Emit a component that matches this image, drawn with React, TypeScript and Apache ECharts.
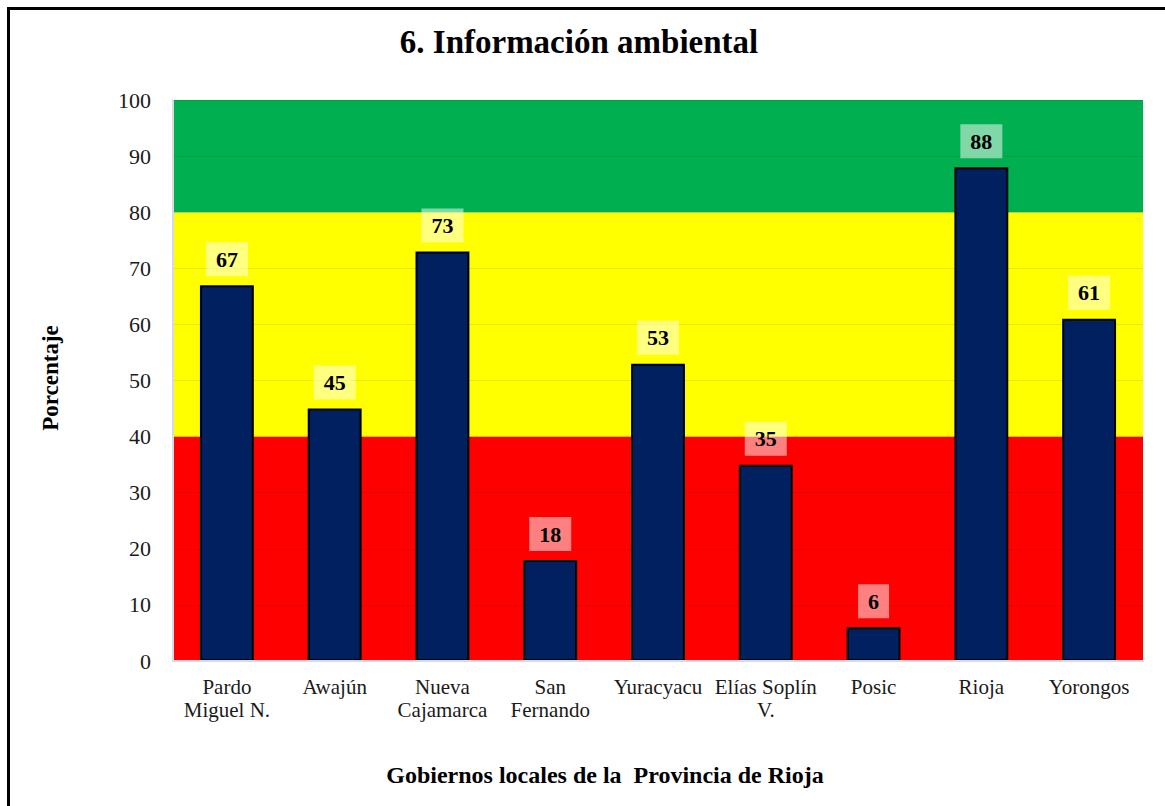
import React, { useEffect, useRef } from "react";
import * as echarts from "echarts";

const categories = [
  "Pardo\nMiguel N.",
  "Awajún",
  "Nueva\nCajamarca",
  "San\nFernando",
  "Yuracyacu",
  "Elías Soplín\nV.",
  "Posic",
  "Rioja",
  "Yorongos",
];
const values = [67, 45, 73, 18, 53, 35, 6, 88, 61];
const bands = [
  { from: 0, to: 40, color: "#FF0000" },
  { from: 40, to: 80, color: "#FFFF00" },
  { from: 80, to: 100, color: "#00B050" },
];
const titleText = "6. Información ambiental";
const yName = "Porcentaje";
const xName = "Gobiernos locales de la  Provincia de Rioja";

const FONT = "Liberation Serif";

export default function App() {
  const ref = useRef<HTMLDivElement>(null);
  useEffect(() => {
    if (!ref.current) return;
    const chart = echarts.init(ref.current, undefined, { renderer: "svg" });
    chart.setOption({
      animation: false,
      backgroundColor: "#ffffff",
      textStyle: { fontFamily: FONT },
      grid: { left: 173, right: 22, top: 100, bottom: 145 },
      graphic: [
        {
          type: "rect",
          shape: { x: 8.5, y: 8.5, width: 1300, height: 1000 },
          style: { fill: "none", stroke: "#000", lineWidth: 3 },
          silent: true,
          z: 100,
        },
        {
          type: "text",
          x: 579,
          y: 42,
          style: {
            text: titleText,
            fontFamily: FONT,
            fontWeight: "bold",
            fontSize: 33,
            fill: "#000",
            align: "center",
            verticalAlign: "middle",
          },
        },
        {
          type: "text",
          x: 50,
          y: 378,
          rotation: Math.PI / 2,
          style: {
            text: yName,
            fontFamily: FONT,
            fontWeight: "bold",
            fontSize: 23,
            fill: "#000",
            align: "center",
            verticalAlign: "middle",
          },
        },
        {
          type: "text",
          x: 605,
          y: 775,
          style: {
            text: xName,
            fontFamily: FONT,
            fontWeight: "bold",
            fontSize: 24,
            fill: "#000",
            align: "center",
            verticalAlign: "middle",
          },
        },
      ],
      xAxis: {
        type: "category",
        data: categories,
        axisLine: { show: true, lineStyle: { color: "#d6dce5", width: 2 } },
        axisTick: { show: false },
        axisLabel: {
          fontFamily: FONT,
          fontSize: 21,
          color: "#1a1a1a",
          lineHeight: 23,
          margin: 14,
          interval: 0,
        },
        z: 5,
      },
      yAxis: {
        type: "value",
        min: 0,
        max: 100,
        interval: 10,
        z: 1.5,
        axisLine: { show: true, lineStyle: { color: "#d6dce5", width: 2 } },
        axisTick: { show: false },
        axisLabel: {
          fontFamily: FONT,
          fontSize: 22,
          color: "#1a1a1a",
          margin: 22,
        },
        splitLine: { show: true, lineStyle: { color: "rgba(0,0,0,0.08)", width: 1 } },
      },
      series: [
        {
          type: "bar",
          data: values,
          barWidth: "50%",
          z: 3,
          itemStyle: { color: "#002060", borderColor: "#000", borderWidth: 2 },
          label: {
            show: true,
            position: "top",
            distance: 9,
            fontFamily: FONT,
            fontWeight: "bold",
            fontSize: 22,
            color: "#000",
            backgroundColor: "rgba(255,255,255,0.5)",
            padding: [6, 10, 6, 10],
          },
          markArea: {
            silent: true,
            z: 1,
            data: bands.map((b) => [
              { yAxis: b.from, itemStyle: { color: b.color, opacity: 1 } },
              { yAxis: b.to },
            ]),
          },
        },
      ],
    });
    return () => chart.dispose();
  }, []);
  return (
    <div
      ref={ref}
      style={{ position: "fixed", left: 0, top: 0, width: 1165, height: 806 }}
    />
  );
}
